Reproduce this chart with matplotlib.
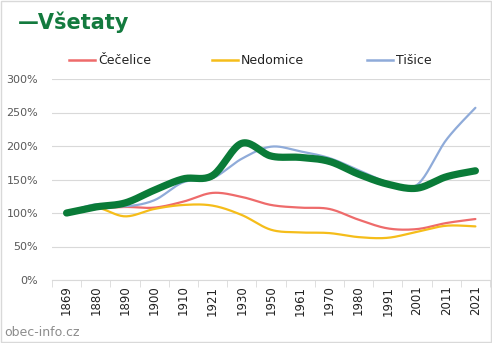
import numpy as np
import matplotlib
matplotlib.use("Agg")
import matplotlib.pyplot as plt
from matplotlib.patches import Rectangle
from matplotlib.lines import Line2D

years = ['1869', '1880', '1890', '1900', '1910', '1921', '1930', '1950',
         '1961', '1970', '1980', '1991', '2001', '2011', '2021']
vsetaty = [100, 109, 115, 134, 151, 156, 204, 185, 183, 177, 158, 143, 137, 154, 163]
cecelice = [100, 106, 109, 108, 117, 130, 124, 112, 108, 106, 90, 77, 76, 85, 91]
nedomice = [100, 108, 95, 106, 112, 111, 97, 75, 71, 70, 64, 63, 72, 81, 80]
tisice = [100, 113, 110, 119, 146, 152, 181, 199, 192, 182, 164, 146, 142, 209, 257]


def smooth(vals, n=20):
    # Catmull-Rom curve through the points, like Excel's smoothed lines
    p = np.asarray(vals, float) / 100
    x = np.arange(len(p), dtype=float)
    P = np.column_stack([x, p])
    P = np.vstack([P[0], P, P[-1]])
    out = []
    for i in range(1, len(P) - 2):
        p0, p1, p2, p3 = P[i - 1], P[i], P[i + 1], P[i + 2]
        t = np.linspace(0, 1, n, endpoint=False)[:, None]
        c = 0.5 * ((2 * p1) + (-p0 + p2) * t + (2 * p0 - 5 * p1 + 4 * p2 - p3) * t ** 2
                   + (-p0 + 3 * p1 - 3 * p2 + p3) * t ** 3)
        out.append(c)
    out.append(P[-2][None, :])
    c = np.vstack(out)
    return c[:, 0], c[:, 1]


W, H = 492, 343
fig = plt.figure(figsize=(W / 100, H / 100), dpi=100)
fig.patches.append(Rectangle((0.002, 0.003), 0.995, 0.994, transform=fig.transFigure,
                             fill=False, edgecolor='#d9d9d9', linewidth=1))
ax = fig.add_axes([52 / W, 1 - 280 / H, 438 / W, 201 / H])

series = [(cecelice, '#ee6b6b', 1.6, 'Čečelice'),
          (nedomice, '#f5bd1a', 1.6, 'Nedomice'),
          (tisice, '#8fabd9', 1.6, 'Tišice'),
          (vsetaty, '#0a7b38', 5.2, 'Všetaty')]
for vals, col, lw, name in series:
    sx, sy = smooth(vals)
    ax.plot(sx, sy, color=col, lw=lw, solid_capstyle='round', label=name)

ax.set_xlim(-0.5, len(years) - 0.5)
ax.set_ylim(0, 3)
ticks = np.arange(0, 3.01, 0.5)
ax.set_yticks(ticks)
ax.set_yticklabels(['%d%%' % round(v * 100) for v in ticks], color='#595959', fontsize=8)
ax.set_xticks(np.arange(len(years)))
ax.set_xticklabels(years, rotation=90, fontsize=8.5, color='#222222')
ax.set_xticks(np.arange(-0.5, len(years)), minor=True)
ax.tick_params(axis='x', which='major', length=0, pad=4)
ax.tick_params(axis='x', which='minor', length=5, color='#d9d9d9')
ax.tick_params(axis='y', length=0, pad=10)
ax.grid(axis='y', color='#d9d9d9', lw=0.8)
ax.set_axisbelow(True)
for s in ['top', 'right', 'left']:
    ax.spines[s].set_visible(False)
ax.spines['bottom'].set_color('#d9d9d9')

fig.text(18 / W, 1 - 22 / H, '—Všetaty', color='#137a3e', fontsize=15,
         fontweight='bold', va='center', ha='left')

# legend row, laid out like the Excel one
leg_x = [69, 212, 367]
ly = 1 - 60 / H
for (vals, col, lw, name), x0 in zip(series[:3], leg_x):
    fig.add_artist(Line2D([x0 / W, (x0 + 26) / W], [ly, ly], color=col, lw=1.8,
                          transform=fig.transFigure))
    fig.text((x0 + 29) / W, ly, name, fontsize=9, va='center', ha='left', color='#222222')

fig.text(4 / W, 1 - 333 / H, 'obec-info.cz', color='#8c8c8c', fontsize=9,
         va='center', ha='left')

fig.savefig('out.png', dpi=100)
